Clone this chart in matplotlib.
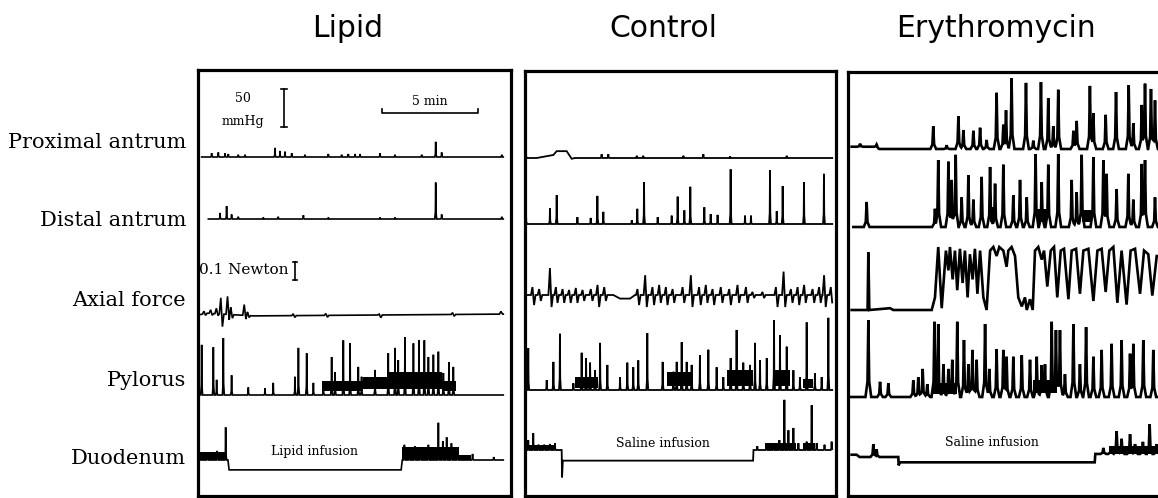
import numpy as np
import matplotlib.pyplot as plt

# ---- tracings ----
# time in minutes from the left edge of each panel, pressure in mmHg, force in Newton
conditions = ['Lipid', 'Control', 'Erythromycin']
channels = ['Proximal antrum', 'Distal antrum', 'Axial force', 'Pylorus', 'Duodenum']
infusions = ['Lipid infusion', 'Saline infusion', 'Saline infusion']

# Lipid
lip_prox_t = [0.71, 1.06, 1.41, 1.58, 2.10, 2.45, 4.01, 4.27, 4.53, 4.88, 5.57, 6.79, 7.48, 7.83, 8.18, 8.44, 9.48, 10.26, 11.65, 12.38, 12.69, 15.82]
lip_prox_a = [5, 6, 5, 4, 3, 3, 12, 8, 7, 5, 3, 4, 3, 4, 4, 4, 5, 3, 3, 20, 6, 3]
lip_dist_t = [1.15, 1.49, 1.75, 2.10, 3.40, 4.18, 5.49, 6.79, 9.48, 10.26, 12.38, 12.69, 15.82]
lip_dist_a = [8, 17, 6, 3, 2, 3, 5, 2, 2, 2, 48, 6, 3]
lip_axial_kt = [0.0, 0.5, 2.9, 15.9]
lip_axial_kv = [0.0, 0.01, -0.005, 0.005]
lip_axial_t = [0.35, 0.70, 1.00, 1.23, 1.58, 1.75, 2.45, 2.62, 5.00, 6.70, 9.48, 13.30, 15.82]
lip_axial_up = [0.015, 0.02, 0.03, 0.09, 0.10, 0.04, 0.06, 0.02, 0.01, 0.01, 0.005, 0.01, 0.015]
lip_axial_dn = [0.01, 0.01, 0.01, 0.07, 0.03, 0.02, 0.02, 0.01, 0.01, 0.01, 0.015, 0.01, 0.0]
lip_pyl_t = [0.19, 0.80, 0.97, 1.32, 1.75, 2.62, 3.49, 3.92, 5.05, 5.23, 5.66, 6.01, 6.53, 6.96, 7.14, 7.57, 7.92, 8.35, 8.52, 9.22,
             9.91, 10.26, 10.43, 10.78, 11.22, 11.51, 11.79, 12.00, 12.26, 12.52, 12.78, 13.07, 13.30]
lip_pyl_a = [66, 63, 20, 75, 26, 10, 9, 16, 24, 62, 55, 16, 17, 50, 30, 72, 68, 37, 24, 33,
             55, 62, 46, 76, 68, 72, 72, 50, 53, 57, 29, 43, 37]
lip_pyl_bands = [(6.45, 8.60, 5, 18), (8.60, 9.90, 8, 24), (9.90, 12.70, 8, 30), (12.70, 13.45, 5, 18)]
lip_duo_kt = [0.0, 1.56, 1.62, 10.58, 10.64, 15.9]
lip_duo_kv = [0, 0, -13, -13, 0, 0]
lip_duo_t = [0.10, 0.50, 1.00, 1.44, 10.75, 11.00, 11.30, 11.60, 12.00, 12.52, 12.75, 12.95, 13.20, 13.50, 14.30, 15.40]
lip_duo_a = [10, 8, 12, 43, 20, 16, 18, 16, 20, 49, 25, 30, 22, 14, 8, 4]
lip_duo_bands = [(0.0, 1.50, 0, 10), (10.64, 13.60, 0, 17), (13.60, 14.20, 0, 7)]

# Control
con_prox_kt = [0.0, 0.61, 1.48, 1.65, 2.17, 2.43, 2.60, 16.0]
con_prox_kv = [0, 0, 4, 9, 9, -1, 0, 0]
con_prox_t = [0.05, 3.99, 4.34, 5.82, 6.16, 8.25, 9.29, 10.68, 13.63]
con_prox_a = [8, 5, 5, 3, 3, 3, 5, 2, 3]
con_dist_t = [0.05, 1.30, 1.65, 2.73, 3.42, 3.77, 4.08, 5.56, 5.85, 6.20, 6.91, 7.64, 7.95, 8.30, 8.61, 9.34, 9.67, 10.03, 10.71, 11.46,
              11.77, 12.76, 13.11, 13.42, 14.53, 15.57]
con_dist_a = [17, 21, 38, 9, 8, 37, 16, 5, 20, 55, 9, 11, 36, 18, 49, 22, 13, 12, 72, 11,
              11, 71, 17, 50, 55, 66]
con_axial_kt = [0.0, 4.60, 4.95, 5.47, 5.73, 16.0]
con_axial_kv = [0, 0, -0.02, -0.02, 0, 0]
con_axial_t = [0.43, 0.78, 1.34, 1.65, 2.00, 2.34, 2.69, 3.04, 3.47, 3.82, 4.17, 5.90, 6.30, 6.68, 7.03, 7.38, 7.73, 8.25, 8.68, 9.11,
               9.46, 9.81, 10.24, 10.68, 11.11, 11.55, 11.89, 12.41, 13.11, 13.51, 13.89, 14.24, 14.58, 15.02, 15.36, 15.62, 15.97]
con_axial_up = [0.044, 0.033, 0.15, 0.044, 0.033, 0.028, 0.039, 0.028, 0.033, 0.056, 0.044, 0.033, 0.11, 0.044, 0.056, 0.044, 0.033, 0.044, 0.11, 0.044,
                0.056, 0.033, 0.044, 0.033, 0.056, 0.044, 0.017, 0.017, 0.044, 0.13, 0.033, 0.044, 0.056, 0.033, 0.044, 0.11, 0.044]
con_axial_dn = [0.056, 0.033, 0.067, 0.044, 0.044, 0.044, 0.044, 0.033, 0.033, 0.067, 0.033, 0.056, 0.067, 0.056, 0.044, 0.056, 0.044, 0.044, 0.067, 0.056,
                0.044, 0.056, 0.044, 0.056, 0.044, 0.044, 0.017, 0.017, 0.067, 0.067, 0.044, 0.056, 0.044, 0.044, 0.044, 0.067, 0.056]
con_pyl_t = [0.17, 1.13, 1.48, 1.82, 2.52, 2.95, 3.18, 3.39, 3.65, 3.91, 4.29, 4.95, 5.33, 5.64, 5.90, 6.37, 7.17, 7.73, 7.90, 8.16,
             8.42, 8.68, 9.11, 9.55, 9.98, 10.33, 10.71, 11.02, 11.37, 11.72, 11.98, 12.24, 12.59, 12.97, 13.28, 13.63, 13.98, 14.32, 14.67, 15.10,
             15.45, 15.80]
con_pyl_a = [55, 13, 37, 74, 9, 49, 42, 36, 26, 62, 33, 17, 36, 30, 39, 75, 37, 24, 37, 63,
             37, 33, 46, 53, 30, 17, 42, 79, 36, 33, 62, 39, 42, 92, 72, 57, 26, 17, 89, 22,
             17, 95]
con_pyl_bands = [(2.61, 3.82, 3, 17), (7.38, 8.77, 5, 24), (10.50, 11.89, 5, 26), (12.93, 13.80, 5, 26), (14.50, 15.02, 3, 15)]
con_duo_kt = [0.0, 1.91, 1.93, 1.97, 11.88, 11.90, 16.0]
con_duo_kv = [0, 0, -36, -14, -14, 0, 0]
con_duo_t = [0.17, 0.43, 0.70, 1.00, 1.30, 1.56, 12.10, 12.59, 12.93, 13.25, 13.51, 13.72, 13.98, 14.24, 14.67, 14.93, 15.19, 15.60, 15.97]
con_duo_a = [13, 22, 7, 7, 8, 9, 5, 9, 9, 13, 66, 26, 29, 9, 11, 59, 9, 7, 11]
con_duo_bands = [(0.10, 1.60, 0, 6), (12.50, 14.10, 0, 9), (14.50, 15.10, 0, 9)]

# Erythromycin
ery_prox_kt = [0.19, 1.50, 1.60, 16.2]
ery_prox_kv = [3, 3, 0, 0]
ery_prox_t = [0.63, 1.49, 4.44, 5.14, 5.75, 6.01, 6.53, 6.88, 7.22, 7.74, 8.09, 8.23, 8.52, 9.27, 9.65, 10.05, 10.43, 10.69, 10.95, 11.74,
              11.91, 12.60, 12.78, 13.42, 13.96, 14.62, 14.86, 15.30, 15.47, 15.78, 15.99]
ery_prox_a = [4, 3, 30, 5, 43, 25, 24, 28, 12, 74, 32, 51, 93, 87, 11, 88, 67, 30, 78, 24,
              37, 83, 47, 45, 75, 84, 34, 58, 86, 79, 64]
ery_dist_t = [0.97, 4.53, 4.70, 5.23, 5.40, 5.61, 5.92, 6.27, 6.53, 6.96, 7.40, 7.66, 8.09, 8.61, 8.96, 9.31, 9.77, 10.09, 10.43, 10.95,
              11.65, 11.91, 12.17, 12.78, 13.30, 13.47, 13.99, 14.60, 14.86, 15.30, 15.47, 15.99]
ery_dist_a = [33, 24, 88, 86, 62, 95, 39, 68, 36, 66, 79, 57, 82, 42, 62, 39, 96, 59, 82, 96,
              62, 46, 95, 92, 88, 70, 50, 70, 36, 83, 88, 39]
ery_dist_bands = [(7.38, 7.66, 6, 26), (9.85, 10.35, 6, 24), (12.20, 12.70, 6, 22)]
ery_axial_t = [0.19, 1.02, 1.06, 1.11, 2.19, 2.36, 4.36, 4.53, 4.70, 4.88, 5.10, 5.23, 5.31, 5.45, 5.57, 5.69, 5.83, 5.97, 6.09, 6.23,
               6.35, 6.49, 6.61, 6.74, 6.88, 7.05, 7.22, 7.40, 7.57, 7.74, 7.88, 8.09, 8.26, 8.35, 8.52, 8.70, 8.87, 9.05, 9.22, 9.31,
               9.48, 9.62, 9.74, 9.91, 10.09, 10.21, 10.38, 10.56, 10.73, 10.90, 11.08, 11.25, 11.48, 11.65, 11.88, 12.08, 12.26, 12.52, 12.78, 12.99,
               13.21, 13.42, 13.61, 13.82, 14.03, 14.25, 14.51, 14.72, 14.95, 15.21, 15.42, 15.64, 15.85, 16.08]
ery_axial_f = [0.0, 0.0, 0.32, 0.0, 0.01, 0.0, 0.0, 0.07, 0.35, 0.01, 0.33, 0.22, 0.35, 0.17, 0.33, 0.11, 0.34, 0.15, 0.33, 0.07,
               0.31, 0.17, 0.34, 0.09, 0.33, 0.07, 0.0, 0.33, 0.35, 0.30, 0.35, 0.33, 0.24, 0.33, 0.35, 0.30, 0.07, 0.02, 0.07, 0.0,
               0.06, 0.0, 0.33, 0.35, 0.28, 0.33, 0.13, 0.33, 0.35, 0.07, 0.33, 0.34, 0.06, 0.33, 0.34, 0.09, 0.33, 0.34, 0.05, 0.33,
               0.34, 0.10, 0.33, 0.35, 0.04, 0.33, 0.03, 0.33, 0.34, 0.09, 0.33, 0.31, 0.08, 0.30]
ery_pyl_t = [1.06, 1.67, 2.10, 3.40, 3.66, 3.89, 4.13, 4.50, 4.70, 4.97, 5.23, 5.43, 5.69, 6.04, 6.27, 6.48, 6.70, 7.14, 7.36, 7.74,
             8.09, 8.26, 8.61, 9.05, 9.48, 9.83, 10.09, 10.26, 10.61, 10.83, 11.04, 11.30, 11.74, 12.08, 12.40, 12.78, 13.21, 13.73, 14.25, 14.69,
             14.86, 15.38, 15.90]
ery_pyl_a = [101, 20, 18, 22, 26, 37, 17, 99, 96, 43, 37, 49, 99, 75, 43, 62, 49, 96, 37, 63,
             62, 53, 53, 55, 49, 53, 42, 43, 99, 88, 88, 30, 96, 43, 92, 53, 62, 70, 75, 57,
             70, 75, 62]
ery_pyl_bands = [(4.44, 5.66, 4, 18), (9.65, 10.87, 5, 22)]
ery_duo_kt = [0.19, 0.45, 0.60, 2.62, 2.64, 2.70, 12.85, 12.88, 16.2]
ery_duo_kv = [3, 3, 0, 0, -11, -7, -7, 4, 4]
ery_duo_t = [1.32, 1.49, 13.30, 13.70, 13.99, 14.25, 14.69, 14.95, 15.36, 15.71, 16.08]
ery_duo_a = [17, 10, 8, 10, 30, 20, 26, 13, 16, 39, 13]
ery_duo_bands = [(13.60, 16.20, 0, 11)]

# ---- layout (pixels of the 1158x498 figure) ----
W, H = 1158, 498
PX_PER_MIN = 19.2          # 5 min = 96 px
K = 50 / 38                # mmHg per px (50 mmHg bar = 38 px)
FORCE_K = 180 * K          # 0.1 N bar = 18 px
panel_px = [(198, 511, 70, 496), (525, 836, 71, 496), (848, 1175, 72, 496)]
row_px = [[157, 219, 315, 395, 460], [158, 224, 295, 390, 450], [149, 227, 310, 397, 457]]
label_px = [143, 221, 301, 380, 458]
title_px = [348, 663, 996]
spike_w = [0.05, 0.05, 0.15]
lw = [1.2, 1.3, 1.9]
infusion_pos = [(6.09, 452), (7.19, 443), (7.50, 443)]


def pressure_trace(kt, kv, st, sa, w):
    kt = np.asarray(kt, float)
    dt = np.array([-1.0, -0.3, 0.0, 0.3, 1.0]) * w
    prof = np.array([0.0, 0.2, 1.0, 0.2, 0.0])
    tt = np.concatenate([kt] + [t + dt for t in st])
    tt = np.unique(tt[(tt >= kt[0]) & (tt <= kt[-1])])
    y = np.interp(tt, kt, kv)
    bump = np.zeros_like(tt)
    for t, a in zip(st, sa):
        bump = np.maximum(bump, a * np.interp(tt, t + dt, prof, left=0, right=0))
    return tt, y + bump


def force_trace(kt, kv, et, up, dn, w):
    kt = np.asarray(kt, float)
    dt = np.array([-1.0, -0.35, 0.35, 1.0]) * w
    tt = np.concatenate([kt] + [t + dt for t in et])
    tt = np.unique(tt[(tt >= kt[0]) & (tt <= kt[-1])])
    y = np.interp(tt, kt, kv)
    for t, u, d in zip(et, up, dn):
        y = y + np.interp(tt, t + dt, [0, u, -d, 0], left=0, right=0)
    return tt, y


# per panel: list of (kind, trace args, bands)
panels = [
    [('p', ([0.19, 15.9], [0, 0], lip_prox_t, lip_prox_a), []),
     ('p', ([0.54, 15.9], [0, 0], lip_dist_t, lip_dist_a), []),
     ('f', (lip_axial_kt, lip_axial_kv, lip_axial_t, lip_axial_up, lip_axial_dn), []),
     ('p', ([0.0, 15.9], [0, 0], lip_pyl_t, lip_pyl_a), lip_pyl_bands),
     ('p', (lip_duo_kt, lip_duo_kv, lip_duo_t, lip_duo_a), lip_duo_bands)],
    [('p', (con_prox_kt, con_prox_kv, con_prox_t, con_prox_a), []),
     ('p', ([0.0, 16.0], [0, 0], con_dist_t, con_dist_a), []),
     ('f', (con_axial_kt, con_axial_kv, con_axial_t, con_axial_up, con_axial_dn), []),
     ('p', ([0.0, 16.0], [0, 0], con_pyl_t, con_pyl_a), con_pyl_bands),
     ('p', (con_duo_kt, con_duo_kv, con_duo_t, con_duo_a), con_duo_bands)],
    [('p', (ery_prox_kt, ery_prox_kv, ery_prox_t, ery_prox_a), []),
     ('p', ([0.28, 16.2], [0, 0], ery_dist_t, ery_dist_a), ery_dist_bands),
     ('v', (ery_axial_t, ery_axial_f), []),
     ('p', ([0.0, 16.2], [0, 0], ery_pyl_t, ery_pyl_a), ery_pyl_bands),
     ('p', (ery_duo_kt, ery_duo_kv, ery_duo_t, ery_duo_a), ery_duo_bands)],
]

fig = plt.figure(figsize=(W / 100, H / 100), dpi=100)

for ci, cond in enumerate(conditions):
    l, r, top, bot = panel_px[ci]
    ax = fig.add_axes([l / W, 1 - bot / H, (r - l) / W, (bot - top) / H])
    ax.set_xlim(0, (r - l) / PX_PER_MIN)
    ax.set_ylim(-(bot - top) * K, 0)
    ax.set_xticks([])
    ax.set_yticks([])
    for s in ax.spines.values():
        s.set_linewidth(2.3)

    for row, (kind, args, bands) in enumerate(panels[ci]):
        off = -(row_px[ci][row] - top) * K
        if kind == 'p':
            t, y = pressure_trace(*args, spike_w[ci])
        elif kind == 'f':
            t, y = force_trace(*args, 0.12)
            y = y * FORCE_K
        else:
            t, y = np.asarray(args[0]), np.asarray(args[1]) * FORCE_K
        ax.plot(t, y + off, color='black', lw=lw[ci], solid_joinstyle='miter')
        # dense bursts drawn as filled black bands above the baseline
        for t0, t1, lo, hi in bands:
            bt = np.array([t0, t1])
            bb = np.interp(bt, args[0], args[1])
            ax.fill_between(bt, bb + lo + off, bb + hi + off, color='black', lw=0)

    # infusion label
    tx, ypx = infusion_pos[ci]
    ax.text(tx, -(ypx - top) * K, infusions[ci], ha='center', va='center',
            fontsize=9, family='DejaVu Serif')

    fig.text(title_px[ci] / W, 1 - 37 / H, cond, ha='center', va='baseline',
             fontsize=21.5, family='DejaVu Sans')

    if ci == 0:
        # 50 mmHg scale bar
        bx = (284 - l) / PX_PER_MIN
        y0 = -(89 - top) * K
        ax.plot([bx, bx], [y0, y0 - 50], color='black', lw=1.2)
        ax.plot([bx - 0.15, bx + 0.15], [y0, y0], color='black', lw=1.2)
        ax.plot([bx - 0.15, bx + 0.15], [y0 - 50, y0 - 50], color='black', lw=1.2)
        ax.text((243 - l) / PX_PER_MIN, -(98 - top) * K, '50', ha='center', va='center',
                fontsize=9, family='DejaVu Serif')
        ax.text((243 - l) / PX_PER_MIN, -(122 - top) * K, 'mmHg', ha='center', va='center',
                fontsize=9, family='DejaVu Serif')
        # 5 min scale bar
        x0 = (382 - l) / PX_PER_MIN
        yb = -(113 - top) * K
        ax.plot([x0, x0, x0 + 5, x0 + 5], [yb + 5, yb, yb, yb + 5], color='black', lw=1.2)
        ax.text(x0 + 2.5, -(108 - top) * K, '5 min', ha='center', va='bottom',
                fontsize=9, family='DejaVu Serif')
        # 0.1 N scale bar
        fx = (295 - l) / PX_PER_MIN
        fy = -(262 - top) * K
        fh = 0.1 * FORCE_K
        ax.plot([fx, fx], [fy, fy - fh], color='black', lw=1.2)
        ax.plot([fx - 0.12, fx + 0.12], [fy, fy], color='black', lw=1.2)
        ax.plot([fx - 0.12, fx + 0.12], [fy - fh, fy - fh], color='black', lw=1.2)
        ax.text(0.05, -(270 - top) * K, '0.1 Newton', ha='left', va='center',
                fontsize=11, family='DejaVu Serif')

for label, ypx in zip(channels, label_px):
    fig.text(186 / W, 1 - ypx / H, label, ha='right', va='center',
             fontsize=15, family='DejaVu Serif')

fig.savefig('out.png', dpi=100)
